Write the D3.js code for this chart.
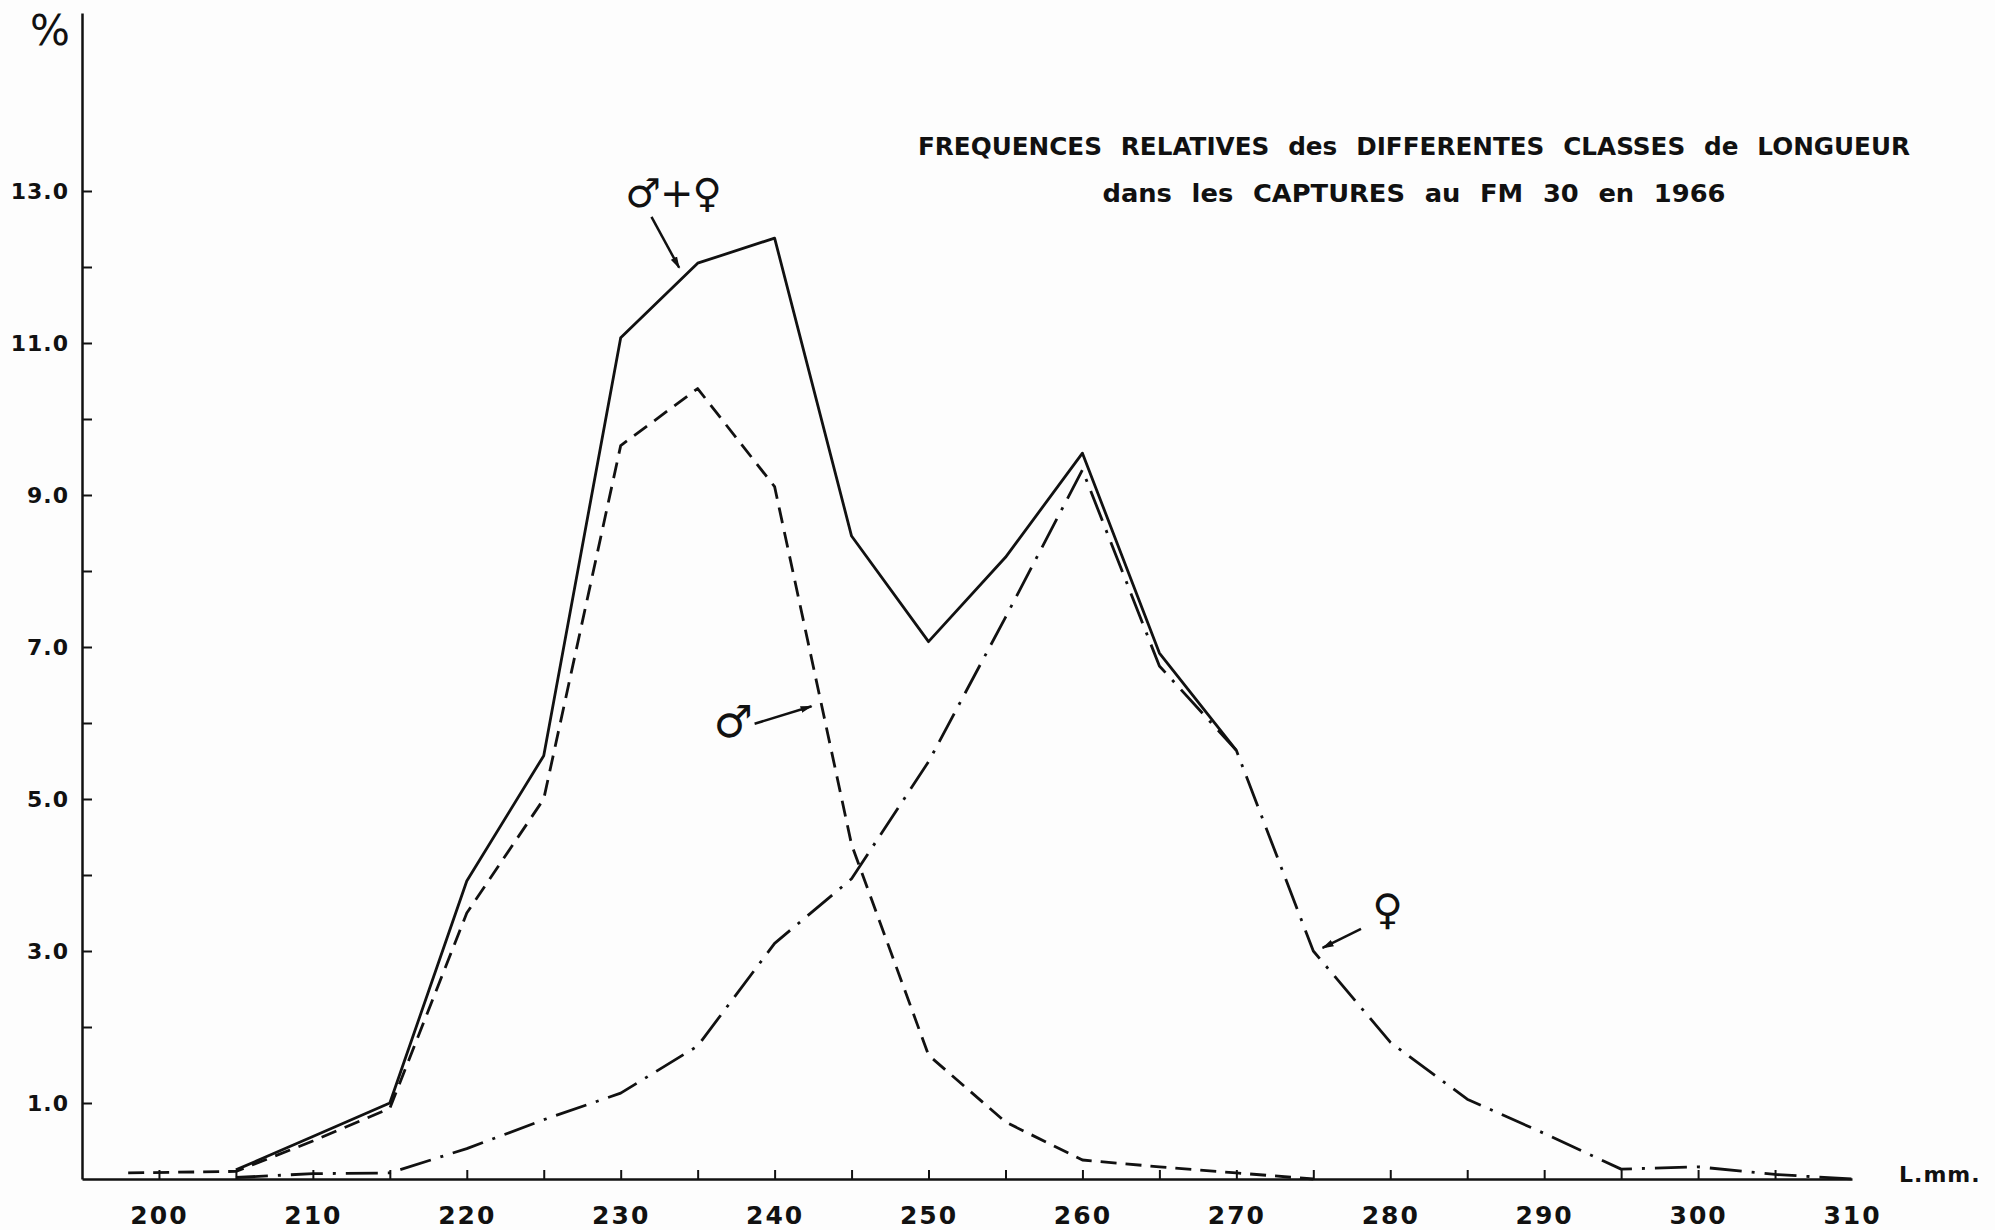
<!DOCTYPE html>
<html>
<head>
<meta charset="utf-8">
<script src="https://cdnjs.cloudflare.com/ajax/libs/d3/7.8.5/d3.min.js"></script>
<style>
    body { margin: 0; background: #fff; }
    svg { display: block; background: #fdfdfd; }
    .lbl { font-family: "DejaVu Sans", sans-serif; font-weight: bold; fill: #111; }
    .sym { font-family: "DejaVu Sans", sans-serif; fill: #111; }
</style>
</head>
<body>
<script>
/*global d3 */
'use strict';

// data (length classes in mm, % of catch) //
// ------------------------------------------ //
var classes = [198, 205, 210, 215, 220, 225, 230, 235, 240, 245, 250, 255, 260, 265, 270, 275, 280, 285, 290, 295, 300, 305, 310];
var total   = [null, 0.12, 0.56, 1.0, 3.92, 5.57, 11.07, 12.05, 12.38, 8.46, 7.07, 8.18, 9.55, 6.92, 5.64, null, null, null, null, null, null, null, null];
var males   = [0.08, 0.1, 0.5, 0.93, 3.5, 5.0, 9.65, 10.4, 9.11, 4.4, 1.63, 0.75, 0.25, 0.16, 0.08, 0.0, null, null, null, null, null, null, null];
var females = [null, 0.02, 0.07, 0.08, 0.4, 0.78, 1.13, 1.75, 3.1, 3.95, 5.49, 7.39, 9.33, 6.75, 5.64, 3.0, 1.8, 1.05, 0.6, 0.13, 0.16, 0.06, 0.0];

var xTicks = [200, 205, 210, 215, 220, 225, 230, 235, 240, 245, 250, 255, 260, 265, 270, 275, 280, 285, 290, 295, 300, 305];
var xLabels = [200, 210, 220, 230, 240, 250, 260, 270, 280, 290, 300, 310];
var yLabels = [1, 3, 5, 7, 9, 11, 13];
var yMinor = [2, 4, 6, 8, 10, 12];

var titleLines = ['FREQUENCES RELATIVES des DIFFERENTES CLASSES de LONGUEUR',
                  'dans les CAPTURES au FM 30 en 1966'];

// annotations: symbol + arrow, in data units
var notes = [
    {text: '\u2642+\u2640', x: 233.4, y: 12.98, size: 40, from: [232.0, 12.66], to: [233.8, 11.99]},
    {text: '\u2642', x: 237.3, y: 6.02, size: 44, from: [238.7, 5.99], to: [242.4, 6.22]},
    {text: '\u2640', x: 279.8, y: 3.55, size: 42, from: [278.1, 3.29], to: [275.6, 3.04]}
];

var W = 1995, H = 1230;

var svg = d3.select('body').append('svg')
    .attr('width', W)
    .attr('height', H);

var x = d3.scaleLinear().domain([195, 310]).range([82, 1852]);
var y = d3.scaleLinear().domain([0, 15.342]).range([1179, 13]);

svg.append('defs').append('marker')
    .attr('id', 'head')
    .attr('viewBox', '0 0 12 8')
    .attr('refX', 11)
    .attr('refY', 4)
    .attr('markerWidth', 12)
    .attr('markerHeight', 8)
    .attr('markerUnits', 'userSpaceOnUse')
    .attr('orient', 'auto')
    .append('path')
    .attr('d', 'M0,0.5 L12,4 L0,7.5 Z')
    .attr('fill', '#111');

// axes //
// ---- //
var yAxis = svg.append('g')
    .attr('transform', 'translate(82,0)')
    .call(d3.axisLeft(y)
        .tickValues(yLabels)
        .tickSizeInner(-10)
        .tickSizeOuter(0)
        .tickPadding(13)
        .tickFormat(d3.format('.1f')));
yAxis.select('.domain').attr('stroke', '#111').attr('stroke-width', 2.5);
yAxis.selectAll('.tick line').attr('stroke', '#111').attr('stroke-width', 2);
yAxis.selectAll('.tick text').attr('class', 'lbl').style('font-size', '22px').style('letter-spacing', '1px');

var yMin = svg.append('g')
    .attr('transform', 'translate(82,0)')
    .call(d3.axisLeft(y).tickValues(yMinor).tickSizeInner(-10).tickSizeOuter(0).tickFormat(''));
yMin.select('.domain').remove();
yMin.selectAll('.tick line').attr('stroke', '#111').attr('stroke-width', 2);

var xAxis = svg.append('g')
    .attr('transform', 'translate(0,' + y(0) + ')')
    .call(d3.axisBottom(x).tickValues(xTicks).tickSizeInner(-9).tickSizeOuter(0).tickFormat(''));
xAxis.select('.domain').attr('stroke', '#111').attr('stroke-width', 2.5);
xAxis.selectAll('.tick line').attr('stroke', '#111').attr('stroke-width', 2);

var xLab = svg.append('g')
    .attr('transform', 'translate(0,' + y(0) + ')')
    .call(d3.axisBottom(x).tickValues(xLabels).tickSize(0).tickPadding(27).tickFormat(d3.format('d')));
xLab.select('.domain').remove();
xLab.selectAll('.tick text').attr('class', 'lbl').style('font-size', '25px').style('letter-spacing', '2px');

svg.append('text')
    .attr('class', 'sym')
    .attr('x', 50)
    .attr('y', 45)
    .attr('text-anchor', 'middle')
    .style('font-size', '42px')
    .text('%');

svg.append('text')
    .attr('class', 'lbl')
    .attr('x', 1899)
    .attr('y', 1182)
    .style('font-size', '22px')
    .style('letter-spacing', '1px')
    .text('L.mm.');

// title //
svg.selectAll('text.title')
    .data(titleLines)
    .enter()
    .append('text')
    .attr('class', 'lbl title')
    .attr('x', 1414)
    .attr('y', function (d, i) { return 155 + i * 47; })
    .attr('text-anchor', 'middle')
    .attr('textLength', function (d, i) { return i === 0 ? 992 : 623; })
    .attr('lengthAdjust', 'spacingAndGlyphs')
    .style('font-size', '24px')
    .style('word-spacing', '10px')
    .text(function (d) { return d; });

// curves //
// ------ //
var series = [
    {values: total, dash: null},
    {values: males, dash: '16,9'},
    {values: females, dash: '32,10,3,10'}
];

var line = d3.line()
    .x(function (d) { return x(d[0]); })
    .y(function (d) { return y(d[1]); });

svg.selectAll('path.curve')
    .data(series)
    .enter()
    .append('path')
    .attr('class', 'curve')
    .attr('fill', 'none')
    .attr('stroke', '#111')
    .attr('stroke-width', 2.8)
    .attr('stroke-linejoin', 'round')
    .attr('stroke-dasharray', function (d) { return d.dash; })
    .attr('d', function (d) {
        var pts = [];
        classes.forEach(function (c, i) {
            if (d.values[i] !== null) { pts.push([c, d.values[i]]); }
        });
        return line(pts);
    });

// annotations //
svg.selectAll('text.note')
    .data(notes)
    .enter()
    .append('text')
    .attr('class', 'sym note')
    .attr('x', function (d) { return x(d.x); })
    .attr('y', function (d) { return y(d.y); })
    .attr('dy', '0.35em')
    .attr('text-anchor', 'middle')
    .style('font-size', function (d) { return d.size + 'px'; })
    .style('letter-spacing', '-1px')
    .text(function (d) { return d.text; });

svg.selectAll('line.arrow')
    .data(notes)
    .enter()
    .append('line')
    .attr('class', 'arrow')
    .attr('x1', function (d) { return x(d.from[0]); })
    .attr('y1', function (d) { return y(d.from[1]); })
    .attr('x2', function (d) { return x(d.to[0]); })
    .attr('y2', function (d) { return y(d.to[1]); })
    .attr('stroke', '#111')
    .attr('stroke-width', 2.5)
    .attr('marker-end', 'url(#head)');
</script>
</body>
</html>
